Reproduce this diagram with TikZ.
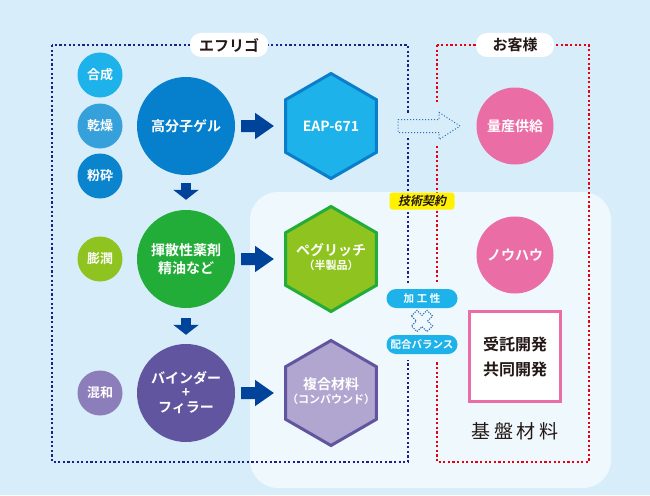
\documentclass[tikz,border=0pt]{standalone}
\usepackage{fontspec}
\setmainfont{Noto Sans CJK JP}[BoldFont={Noto Sans CJK JP Bold}]
\newfontfamily\slantjp{Noto Sans CJK JP Bold}[FakeSlant=0.2]
\usetikzlibrary{shapes.geometric,shapes.arrows,arrows.meta,calc}
\definecolor{bgblue}{HTML}{D7EDFA}
\definecolor{paleblue}{HTML}{EFF8FD}
\definecolor{navy}{HTML}{1D2088}
\definecolor{redd}{HTML}{E60012}
\definecolor{cyanA}{HTML}{1DB2EA}
\definecolor{blueB}{HTML}{36A0DB}
\definecolor{blueC}{HTML}{0A84CC}
\definecolor{gelblue}{HTML}{0680CC}
\definecolor{arrowblue}{HTML}{00439A}
\definecolor{hexborder}{HTML}{0A7ECB}
\definecolor{ygreen}{HTML}{8FC31F}
\definecolor{mygreen}{HTML}{22AC38}
\definecolor{lpurple}{HTML}{8C7EBA}
\definecolor{mypurple}{HTML}{62559F}
\definecolor{hexpurple}{HTML}{B1A6D0}
\definecolor{mypink}{HTML}{EB6DA5}
\definecolor{tagyellow}{HTML}{FFF100}
\definecolor{ink}{HTML}{231815}
\definecolor{dotblue}{HTML}{2F6DB5}
\newcommand{\hextext}[2]{\makebox[0pt][c]{\begin{tabular}{@{}c@{}}#1\\[-3pt]{\fontsize{11}{13}\selectfont #2}\end{tabular}}}
\tikzset{
  smallc/.style={circle, minimum size=45pt, inner sep=0pt, text=white,
    font=\bfseries\fontsize{13}{15}\selectfont},
  bigc/.style={circle, minimum size=98pt, inner sep=0pt, text=white, align=center,
    font=\bfseries\fontsize{14}{18}\selectfont},
  hexa/.style={regular polygon, regular polygon sides=6, shape border rotate=30,
    minimum size=105pt, inner sep=0pt, line width=3pt, text=white, align=center,
    font=\bfseries\fontsize{14}{17}\selectfont},
  pinkc/.style={circle, fill=mypink, minimum size=77pt, inner sep=0pt, text=white,
    font=\bfseries\fontsize{14}{16}\selectfont},
  lab/.style={fill=white, rounded corners=11pt, minimum width=78pt, minimum height=24pt,
    inner sep=0pt, text=ink, font=\bfseries\fontsize{15}{17}\selectfont},
  pill/.style={fill=cyanA, rounded corners=9.5pt, minimum width=71pt, minimum height=19pt,
    inner sep=0pt, text=white, font=\bfseries\fontsize{10.5}{12}\selectfont},
  rarrow/.style={draw=arrowblue, line width=12pt, -{Triangle[length=19pt,width=25pt]}},
  darrow/.style={draw=arrowblue, line width=10pt, -{Triangle[length=10pt,width=25pt]}},
  navydots/.style={draw=navy, line width=2pt, dash pattern=on 2.2pt off 2.4pt},
  reddots/.style={draw=redd, line width=2pt, dash pattern=on 2.2pt off 2.4pt},
}
\begin{document}
\begin{tikzpicture}[x=1pt, y=-1pt]
\useasboundingbox (0,0) rectangle (650,495);
\fill[bgblue] (0,0) rectangle (650,495);
\fill[paleblue, rounded corners=28pt] (250,192) rectangle (611,488);

% frames
\draw[navydots] (52,45) rectangle (408,462);
\draw[reddots] (437,45) rectangle (589,462);
% gaps in frames
\fill[bgblue] (402,114) rectangle (414,136);
\fill[bgblue] (431,103) rectangle (443,145);
\fill[paleblue] (386,283) rectangle (459,360);

\node[lab] (efu) at (229,45) {エフリゴ};
\node[lab] (kyaku) at (515,45) {お客様};

% small circles
\node[smallc, fill=cyanA] (gousei) at (100,75) {合成};
\node[smallc, fill=blueB] (kansou) at (100,126) {乾燥};
\node[smallc, fill=blueC] (funsai) at (100,176) {粉砕};
\node[smallc, fill=ygreen] (bojun) at (100,259) {膨潤};
\node[smallc, fill=lpurple] (konwa) at (100,393) {混和};

% big circles
\node[bigc, fill=gelblue] (gel) at (186,126) {高分子ゲル};
\node[bigc, fill=mygreen] (kisan) at (186,259) {揮散性薬剤\\精油など};
\node[bigc, fill=mypurple] (binder) at (186,393) {バインダー\\[-4pt]+\\[-3pt]フィラー};

% hexagons
\node[hexa, fill=cyanA, draw=hexborder] (eap) at (331,126) {EAP-671};
\node[hexa, fill=ygreen, draw=mygreen] (pegu) at (331,259) {\hextext{ペグリッチ}{（半製品）}};
\node[hexa, fill=hexpurple, draw=mypurple] (fukugo) at (331,393) {\hextext{複合材料}{（コンパウンド）}};

% arrows
\draw[darrow, shorten <=8pt, shorten >=10pt] (gel.south) -- (kisan.north);
\draw[darrow, shorten <=10pt, shorten >=9pt] (kisan.south) -- (binder.north);
\draw[rarrow, shorten <=6pt, shorten >=10pt] (gel.east) -- (eap.west);
\draw[rarrow, shorten <=6pt, shorten >=10pt] (kisan.east) -- (pegu.west);
\draw[rarrow, shorten <=6pt, shorten >=10pt] (binder.east) -- (fukugo.west);

% customer side
\node[pinkc] (mass) at (515,126) {量産供給};
\node[pinkc] (know) at (515,255) {ノウハウ};
\node[draw=mypink, line width=3pt, fill=white, minimum width=91pt, minimum height=90pt,
  inner sep=0pt, align=center, text=ink, font=\bfseries\fontsize{16}{25}\selectfont]
  (jutaku) at (515,356.5) {受託開発\\共同開発};
\node[text=ink, font=\fontsize{19}{21}\selectfont\addfontfeature{LetterSpace=20}]
  (kiban) at (515,431) {基盤材料};

% dotted open arrow
\node[single arrow, draw=dotblue, fill=bgblue, line width=1pt, dotted,
  minimum height=62pt, minimum width=26pt, inner sep=6pt,
  single arrow head extend=7pt, single arrow tip angle=66] (supply) at (424,126) {};

% tags
\node[fill=tagyellow, rounded corners=3pt, minimum width=65pt, minimum height=17pt,
  inner sep=0pt, text=ink, font=\slantjp\fontsize{12}{13}\selectfont] (gijutsu) at (422,201) {技術契約};
\node[pill] (kakou) at (422,298.5) {\addfontfeature{LetterSpace=25}加工性};
\node[pill] (haigou) at (422,344.5) {配合バランス};
\draw[dotblue, line width=1pt, dash pattern=on 1.2pt off 1.2pt, fill=paleblue, rotate around={45:(422,321)}]
  (418,310) -- (426,310) -- (426,317) -- (433,317) -- (433,325) -- (426,325) -- (426,332)
  -- (418,332) -- (418,325) -- (411,325) -- (411,317) -- (418,317) -- cycle;
\end{tikzpicture}
\end{document}
